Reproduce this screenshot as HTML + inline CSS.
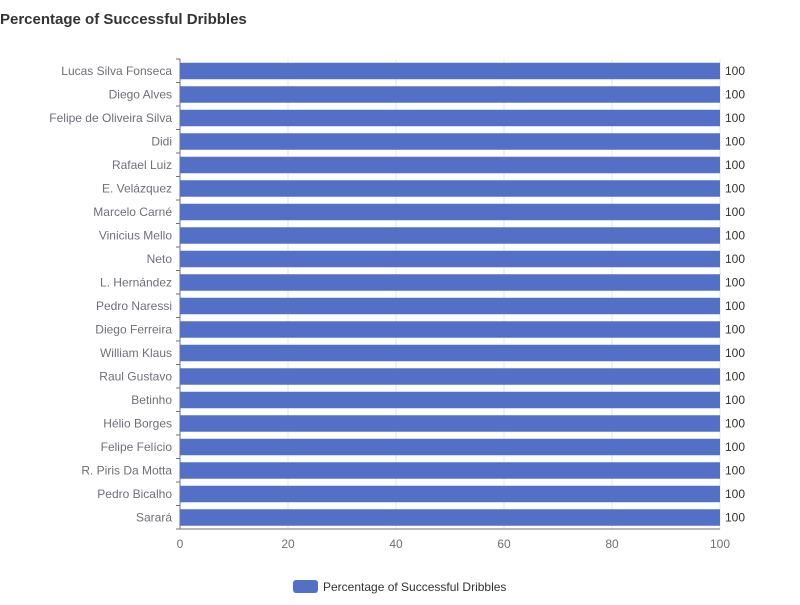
<!DOCTYPE html>
<html><head><meta charset="utf-8"><style>
body{margin:0;background:#fff;font-family:"Liberation Sans",sans-serif}
</style></head><body>
<svg width="800" height="600" xmlns="http://www.w3.org/2000/svg">
<text x="0" y="24" font-size="15" font-weight="bold" fill="#333">Percentage of Successful Dribbles</text>
<g id="grid"></g><g id="bars"></g><g id="axes"></g>
<g>
<rect x="293" y="580" width="25" height="13" rx="3" fill="#5470c6"/>
<text x="323" y="591" font-size="12" fill="#333">Percentage of Successful Dribbles</text>
</g>
</svg>
<script>
const categories=["Lucas Silva Fonseca","Diego Alves","Felipe de Oliveira Silva","Didi","Rafael Luiz","E. Velázquez","Marcelo Carné","Vinicius Mello","Neto","L. Hernández","Pedro Naressi","Diego Ferreira","William Klaus","Raul Gustavo","Betinho","Hélio Borges","Felipe Felício","R. Piris Da Motta","Pedro Bicalho","Sarará"];
const values=[100,100,100,100,100,100,100,100,100,100,100,100,100,100,100,100,100,100,100,100];
const ticks=[0,20,40,60,80,100];
const NS="http://www.w3.org/2000/svg";
const x0=180,x1=720,y0=59,y1=529,band=(y1-y0)/categories.length;
const xs=v=>x0+(v-100*0)/100*(x1-x0);
function mk(t,a,p,txt){const e=document.createElementNS(NS,t);for(const k in a)e.setAttribute(k,a[k]);if(txt!==undefined)e.textContent=txt;document.getElementById(p).appendChild(e);return e;}
ticks.forEach(t=>{
 if(t>0){const g=mk('line',{x1:xs(t),x2:xs(t),y1:y0,y2:y1,stroke:'#e0e6f1'},'grid');
 
 }
 const l=mk('text',{x:xs(t),y:548,'font-size':12,fill:'#6e7079','text-anchor':'middle'},'axes',t);
 
 
});
categories.forEach((c,i)=>{
 const cy=y0+band*(i+0.5);
 const r=mk('rect',{x:x0,y:cy-8,width:xs(values[i])-x0,height:16.5,fill:'#5470c6'},'bars');
 
 
 const v=mk('text',{x:xs(values[i])+5,y:cy+4,'font-size':12,fill:'#333'},'bars',values[i]);
 
 
 const l=mk('text',{x:172,y:cy+4,'font-size':12,fill:'#6e7079','text-anchor':'end'},'axes',c);
 
 
});
for(let i=0;i<=categories.length;i++){
 const y=y0+band*i;
 const t=mk('line',{x1:176,x2:x0,y1:y,y2:y,stroke:'#6e7079'},'axes');
 
 
}
const ya=mk('line',{x1:x0,x2:x0,y1:y0,y2:y1,stroke:'#6e7079'},'axes');


const xa=mk('line',{x1:x0,x2:x1,y1:y1,y2:y1,stroke:'#6e7079'},'axes');


</script>
</body></html>
